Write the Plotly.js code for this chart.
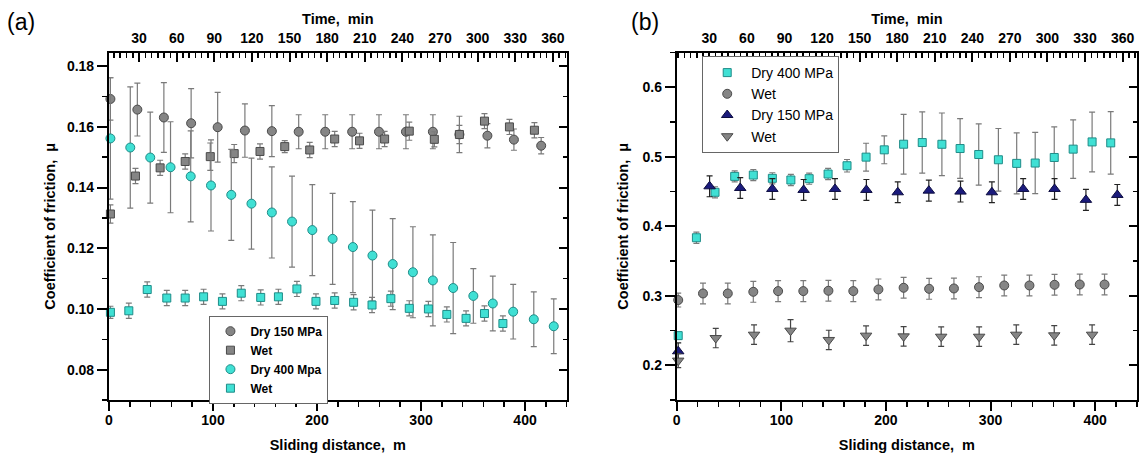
<!DOCTYPE html>
<html>
<head>
<meta charset="utf-8">
<script src="https://cdn.plot.ly/plotly-3.0.1.min.js"></script>
<style>
html,body{margin:0;padding:0;background:#fff;}
#chart{width:1142px;height:453px;}
</style>
</head>
<body>
<div id="chart"></div>
<script>
// ---------- Panel (a) data ----------
const aDry150X = [1.4, 27.3, 52.8, 79, 104.5, 130.7, 156.6, 182.4, 207.9, 233.8, 259.6, 285.5, 311.4, 336.9, 363.8, 389.3, 415.5];
const aDry150Y = [0.1692, 0.1657, 0.1631, 0.1612, 0.1599, 0.1588, 0.1586, 0.1584, 0.1584, 0.1584, 0.1584, 0.1584, 0.1584, 0.1575, 0.1571, 0.1558, 0.1538];
const aDry150E = [0.007, 0.0087, 0.0115, 0.0114, 0.0115, 0.0088, 0.0084, 0.0056, 0.0056, 0.0056, 0.0056, 0.0056, 0.0056, 0.006, 0.004, 0.0035, 0.0027];

const aWet150X = [1.4, 25.5, 49.2, 73.3, 97.4, 120.4, 145.2, 169, 193, 217, 240.9, 265, 288.7, 312.8, 336.9, 361, 385, 409];
const aWet150Y = [0.1313, 0.1438, 0.1465, 0.1486, 0.1502, 0.1512, 0.1519, 0.1535, 0.1524, 0.156, 0.1554, 0.156, 0.1586, 0.1559, 0.1575, 0.1619, 0.160, 0.1589];
const aWet150E = [0.003, 0.0025, 0.0025, 0.0025, 0.0045, 0.003, 0.0025, 0.002, 0.0025, 0.0025, 0.0025, 0.0025, 0.003, 0.0025, 0.003, 0.0025, 0.0025, 0.0025];

const aDry400X = [1.4, 20.5, 39.7, 59.2, 78.6, 98.1, 117.6, 137, 156.6, 176, 195.5, 215, 234.5, 253.3, 272.8, 292.2, 311.4, 330.9, 350.3, 369, 388.6, 408.4, 427.6];
const aDry400Y = [0.1562, 0.1532, 0.1499, 0.1467, 0.1437, 0.1407, 0.1376, 0.1347, 0.1318, 0.1288, 0.126, 0.1231, 0.1204, 0.1176, 0.1148, 0.1121, 0.1094, 0.1069, 0.1043, 0.1018, 0.0991, 0.0966, 0.0943];
const aDry400E = [0.02, 0.02, 0.015, 0.015, 0.015, 0.015, 0.015, 0.015, 0.015, 0.015, 0.015, 0.015, 0.015, 0.015, 0.015, 0.015, 0.015, 0.015, 0.009, 0.009, 0.009, 0.009, 0.009];

const aWet400X = [1.4, 19.1, 36.8, 55.6, 73.3, 91, 109.1, 127.2, 145.9, 162.9, 180.7, 199, 217, 235.2, 252.9, 271, 288.7, 307.1, 324.8, 343.3, 361, 378.7];
const aWet400Y = [0.0989, 0.0994, 0.1064, 0.1036, 0.1036, 0.104, 0.1025, 0.1052, 0.1038, 0.104, 0.1066, 0.1025, 0.1028, 0.1022, 0.1013, 0.1034, 0.1002, 0.1, 0.0982, 0.0969, 0.0985, 0.0952];
const aWet400E = [0.002, 0.0025, 0.0025, 0.0025, 0.0025, 0.0025, 0.0025, 0.0025, 0.0025, 0.0025, 0.0025, 0.0025, 0.0025, 0.0025, 0.0025, 0.0025, 0.0025, 0.0025, 0.0025, 0.0025, 0.0025, 0.0025];

// ---------- Panel (b) data ----------
const bDry400X = [1.4, 18.8, 36.6, 55.4, 73.2, 91.4, 109.1, 126.6, 144.7, 162.8, 181, 198.4, 216.9, 234.7, 253.5, 270.9, 288.7, 307.5, 325, 342.7, 360.9, 379, 397.1, 414.9];
const bDry400Y = [0.2426, 0.3835, 0.4489, 0.4718, 0.4737, 0.469, 0.4666, 0.4685, 0.4752, 0.4871, 0.4995, 0.51, 0.5181, 0.5205, 0.518, 0.5119, 0.5033, 0.4957, 0.4905, 0.491, 0.499, 0.511, 0.5214, 0.52];
const bDry400E = [0.005, 0.008, 0.008, 0.008, 0.008, 0.008, 0.008, 0.008, 0.008, 0.009, 0.02, 0.02, 0.043, 0.044, 0.045, 0.043, 0.044, 0.045, 0.044, 0.044, 0.044, 0.042, 0.043, 0.045];

const bWetCircX = [1.4, 25.1, 48.8, 73.2, 96.9, 121, 145, 168.8, 192.8, 216.9, 241.3, 265, 289, 313.1, 337.2, 361.2, 385.3, 409];
const bWetCircY = [0.2938, 0.3033, 0.3033, 0.3057, 0.3067, 0.3067, 0.3072, 0.3067, 0.3091, 0.3115, 0.31, 0.3105, 0.3124, 0.3148, 0.3148, 0.3158, 0.3162, 0.3162];
const bWetCircE = [0.01, 0.015, 0.015, 0.015, 0.015, 0.015, 0.015, 0.015, 0.015, 0.015, 0.015, 0.015, 0.015, 0.015, 0.015, 0.015, 0.015, 0.015];

const bDry150X = [1.4, 31.4, 60.7, 91.4, 121.3, 151.3, 181.3, 211.3, 241, 271.3, 301.3, 331.2, 361.2, 391.2, 421.2];
const bDry150Y = [0.2201, 0.4575, 0.4551, 0.4537, 0.4523, 0.4537, 0.4523, 0.4489, 0.4513, 0.4499, 0.4489, 0.4537, 0.4537, 0.438, 0.4451];
const bDry150E = [0.012, 0.015, 0.015, 0.015, 0.015, 0.015, 0.015, 0.015, 0.015, 0.015, 0.015, 0.015, 0.015, 0.015, 0.015];

const bWetTriX = [1.4, 37.3, 73.9, 108.8, 145.4, 181, 216.9, 252.8, 289.1, 324.6, 360.9, 397.1];
const bWetTriY = [0.2067, 0.2392, 0.244, 0.2498, 0.2364, 0.2426, 0.2416, 0.2411, 0.2411, 0.244, 0.2431, 0.244];
const bWetTriE = [0.01, 0.014, 0.014, 0.016, 0.014, 0.014, 0.014, 0.014, 0.014, 0.014, 0.014, 0.014];

// ---------- Axis labels ----------
const xTitle = 'Sliding distance,  m';
const topTitle = 'Time,  min';
const yTitle = 'Coefficient of friction,  μ';
const timeTicks = [30, 60, 90, 120, 150, 180, 210, 240, 270, 300, 330, 360];

// ---------- Styles ----------
const FONT = 'Arial, "Liberation Sans", Helvetica, sans-serif';
const GRAY = '#858585', GRAY_L = '#4a4a4a';
const CYAN = '#40e0d4', CYAN_L = '#1f8c88';
const NAVY = '#1b1b7c', NAVY_L = '#0d0d40';
const ERR = '#7a7a7a';

function tr(x, y, e, name, xa, ya, leg, sym, fill, line, size, ecol) {
  return {
    type: 'scatter', mode: 'markers', x: x, y: y, name: name,
    xaxis: xa, yaxis: ya, legend: leg, cliponaxis: false,
    marker: {symbol: sym, color: fill, size: size, line: {color: line, width: 1}},
    error_y: {type: 'data', array: e, visible: true, color: ecol || ERR, thickness: 1.2, width: 3}
  };
}
// empty helper traces so that the frame axes (top time axis, right axis) get drawn
function frameTrace(xa, ya) {
  return {type: 'scatter', mode: 'markers', x: [], y: [], xaxis: xa, yaxis: ya, showlegend: false, hoverinfo: 'skip'};
}

const data = [
  tr(aDry150X, aDry150Y, aDry150E, 'Dry 150 MPa', 'x', 'y', 'legend', 'circle', GRAY, GRAY_L, 9),
  tr(aWet150X, aWet150Y, aWet150E, 'Wet', 'x', 'y', 'legend', 'square', GRAY, GRAY_L, 8),
  tr(aDry400X, aDry400Y, aDry400E, 'Dry 400 Mpa', 'x', 'y', 'legend', 'circle', CYAN, CYAN_L, 9),
  tr(aWet400X, aWet400Y, aWet400E, 'Wet', 'x', 'y', 'legend', 'square', CYAN, CYAN_L, 8),
  tr(bDry400X, bDry400Y, bDry400E, 'Dry 400 MPa', 'x3', 'y3', 'legend2', 'square', CYAN, CYAN_L, 8),
  tr(bWetCircX, bWetCircY, bWetCircE, 'Wet', 'x3', 'y3', 'legend2', 'circle', GRAY, GRAY_L, 9),
  tr(bDry150X, bDry150Y, bDry150E, 'Dry 150 MPa', 'x3', 'y3', 'legend2', 'triangle-up', NAVY, NAVY_L, 10, '#222'),
  tr(bWetTriX, bWetTriY, bWetTriE, 'Wet', 'x3', 'y3', 'legend2', 'triangle-down', GRAY, GRAY_L, 10, '#444'),
  frameTrace('x2', 'y2'),
  frameTrace('x4', 'y4')
];

function tickFont() { return {family: FONT, size: 14, color: '#000', weight: 700}; }
function titleFont() { return {family: FONT, size: 14.5, color: '#000', weight: 700}; }

function bottomAxis(domain, anchor) {
  return {
    domain: domain, anchor: anchor, range: [0, 440], tick0: 0, dtick: 100,
    ticks: 'outside', ticklen: 9, tickwidth: 2, tickcolor: '#000',
    showline: true, linewidth: 2, linecolor: '#000', mirror: false,
    showgrid: false, zeroline: false, tickfont: tickFont(), ticklabelstandoff: -3,
    minor: {dtick: 20, ticks: 'outside', ticklen: 5, tickwidth: 1.5, tickcolor: '#000', showgrid: false},
    title: {text: xTitle, font: titleFont()}
  };
}
function topAxis(over, anchor, range) {
  return {
    overlaying: over, anchor: anchor, side: 'top', range: range,
    tickmode: 'array', tickvals: timeTicks, ticktext: timeTicks.map(String),
    ticks: 'inside', ticklen: 9, tickwidth: 2, tickcolor: '#000',
    showline: true, linewidth: 2, linecolor: '#000',
    showgrid: false, zeroline: false, tickfont: tickFont(), ticklabelstandoff: 2,
    minor: {tickmode: 'linear', tick0: 0, dtick: 5, ticks: 'inside', ticklen: 5, tickwidth: 1.5, tickcolor: '#000', showgrid: false},
    title: {text: topTitle, font: titleFont(), standoff: 2}
  };
}
function leftAxis(domain, anchor, range, dtick, fmt, standoff) {
  return {
    domain: domain, anchor: anchor, range: range, tick0: 0, dtick: dtick, tickformat: fmt,
    ticks: 'outside', ticklen: 10, tickwidth: 2, tickcolor: '#000',
    showline: true, linewidth: 2, linecolor: '#000', mirror: false,
    showgrid: false, zeroline: false, tickfont: tickFont(),
    minor: {dtick: dtick / 2, ticks: 'outside', ticklen: 5, tickwidth: 1.5, tickcolor: '#000', showgrid: false},
    title: {text: yTitle, font: titleFont(), standoff: standoff}
  };
}
function rightAxis(over, anchor, range, dtick) {
  return {
    overlaying: over, anchor: anchor, side: 'right', range: range, tick0: 0, dtick: dtick,
    ticks: 'inside', ticklen: 8, tickwidth: 2, tickcolor: '#000', showticklabels: false,
    showline: true, linewidth: 2, linecolor: '#000',
    showgrid: false, zeroline: false,
    minor: {dtick: dtick / 2, ticks: 'inside', ticklen: 4, tickwidth: 1.5, tickcolor: '#000', showgrid: false}
  };
}

const yDom = [0.117, 0.884];
const aRange = [0.07, 0.1845];
const bRange = [0.15, 0.65];

const layout = {
  width: 1142, height: 453,
  margin: {l: 0, r: 0, t: 0, b: 0},
  paper_bgcolor: '#fff', plot_bgcolor: '#fff',
  font: {family: FONT, color: '#000'},
  showlegend: true,
  xaxis: bottomAxis([0.0954, 0.4962], 'y'),
  xaxis2: topAxis('x', 'y', [6, 371]),
  yaxis: leftAxis(yDom, 'x', aRange, 0.02, '.2f', 8),
  yaxis2: rightAxis('y', 'x', aRange, 0.02),
  xaxis3: bottomAxis([0.5926, 0.9956], 'y3'),
  xaxis4: topAxis('x3', 'y3', [4, 371.5]),
  yaxis3: leftAxis(yDom, 'x3', bRange, 0.1, '.1f', 10),
  yaxis4: rightAxis('y3', 'x3', bRange, 0.1),
  legend: {
    x: 0.1834, y: 0.206, xanchor: 'left', yanchor: 'middle',
    bgcolor: '#fff', bordercolor: '#666', borderwidth: 1,
    font: {family: FONT, size: 12, color: '#000', weight: 700},
    tracegroupgap: 0, itemwidth: 30
  },
  legend2: {
    x: 0.6149, y: 0.7693, xanchor: 'left', yanchor: 'middle',
    bgcolor: '#fff', bordercolor: '#666', borderwidth: 1,
    font: {family: FONT, size: 14, color: '#000'},
    tracegroupgap: 0, itemwidth: 38
  },
  annotations: [
    {text: '(a)', xref: 'paper', yref: 'paper', x: 0.0184, y: 0.9514, xanchor: 'center', yanchor: 'middle', showarrow: false, font: {family: FONT, size: 23, color: '#000'}},
    {text: '(b)', xref: 'paper', yref: 'paper', x: 0.5648, y: 0.9514, xanchor: 'center', yanchor: 'middle', showarrow: false, font: {family: FONT, size: 23, color: '#000'}}
  ]
};

Plotly.newPlot('chart', data, layout, {displayModeBar: false, staticPlot: true});
</script>
</body>
</html>
